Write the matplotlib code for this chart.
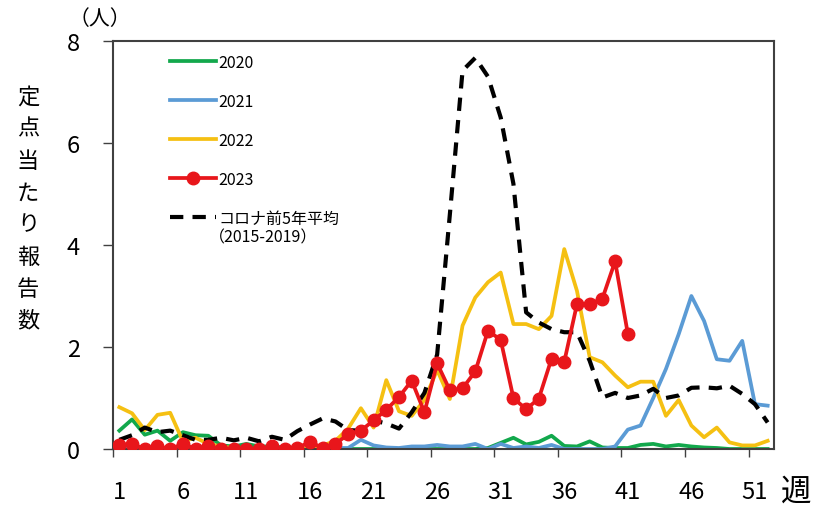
import matplotlib
matplotlib.use("Agg")
import matplotlib.pyplot as plt

plt.rcParams['font.family'] = ['Noto Sans CJK JP', 'DejaVu Sans']

weeks = list(range(1, 53))
weeks_2023 = list(range(1, 42))

v2020 = [0.36, 0.58, 0.28, 0.36, 0.16, 0.33, 0.27, 0.26, 0.07, 0.05,
         0.10, 0.05, 0.05, 0.03, 0.02, 0.00, 0.00, 0.00, 0.00, 0.00,
         0.00, 0.00, 0.00, 0.00, 0.00, 0.00, 0.00, 0.00, 0.00, 0.02,
         0.12, 0.22, 0.09, 0.14, 0.26, 0.06, 0.05, 0.15, 0.03, 0.02,
         0.02, 0.08, 0.10, 0.05, 0.08, 0.05, 0.03, 0.02, 0.00, 0.00,
         0.00, 0.00]

v2021 = [0.05, 0.02, 0.00, 0.00, 0.00, 0.00, 0.00, 0.00, 0.00, 0.00,
         0.00, 0.00, 0.00, 0.00, 0.00, 0.00, 0.00, 0.02, 0.02, 0.18,
         0.07, 0.03, 0.02, 0.05, 0.05, 0.08, 0.05, 0.05, 0.10, 0.00,
         0.10, 0.02, 0.05, 0.02, 0.08, 0.00, 0.00, 0.00, 0.00, 0.05,
         0.38, 0.46, 1.00, 1.57, 2.25, 3.00, 2.51, 1.76, 1.73, 2.12,
         0.88, 0.85]

v2022 = [0.82, 0.70, 0.37, 0.67, 0.71, 0.15, 0.22, 0.10, 0.05, 0.02,
         0.00, 0.00, 0.00, 0.00, 0.00, 0.02, 0.07, 0.16, 0.40, 0.80,
         0.42, 1.35, 0.74, 0.65, 0.96, 1.55, 0.98, 2.42, 2.97, 3.27,
         3.46, 2.45, 2.45, 2.35, 2.61, 3.92, 3.10, 1.80, 1.70, 1.44,
         1.21, 1.32, 1.32, 0.65, 0.96, 0.46, 0.23, 0.42, 0.13, 0.07,
         0.07, 0.16]

v2023 = [0.08, 0.10, 0.00, 0.05, 0.00, 0.10, 0.00, 0.05, 0.00, 0.00,
         0.00, 0.00, 0.05, 0.00, 0.02, 0.14, 0.02, 0.10, 0.29, 0.36,
         0.56, 0.77, 1.02, 1.34, 0.72, 1.68, 1.15, 1.19, 1.52, 2.32,
         2.14, 1.00, 0.78, 0.99, 1.77, 1.71, 2.84, 2.84, 2.95, 3.68,
         2.26]

vavg = [0.18, 0.27, 0.42, 0.33, 0.36, 0.27, 0.18, 0.18, 0.22, 0.17,
        0.22, 0.15, 0.24, 0.18, 0.35, 0.48, 0.60, 0.54, 0.37, 0.36,
        0.56, 0.50, 0.40, 0.72, 1.10, 1.85, 4.60, 7.42, 7.67, 7.30,
        6.50, 5.20, 2.68, 2.48, 2.35, 2.29, 2.29, 1.73, 1.01, 1.10,
        1.00, 1.05, 1.18, 1.00, 1.05, 1.20, 1.21, 1.19, 1.24, 1.08,
        0.88, 0.52]

labels = ['2020', '2021', '2022', '2023', 'コロナ前5年平均']
label_avg_years = '（2015-2019）'
xtick_labels = ['1', '6', '11', '16', '21', '26', '31', '36', '41', '46', '51']
ytick_vals = [0, 2, 4, 6, 8]

c2020 = '#12A84C'
c2021 = '#5B9BD5'
c2022 = '#F5C012'
c2023 = '#E8161B'

fig = plt.figure(figsize=(8.25, 5.06), dpi=100)
ax = fig.add_axes([113 / 825, 1 - 450 / 506, (774 - 113) / 825, (450 - 42) / 506])

ax.plot(weeks, v2020, color=c2020, lw=2.7, zorder=2, label=labels[0])
ax.plot(weeks, v2021, color=c2021, lw=2.7, zorder=2, label=labels[1])
ax.plot(weeks, v2022, color=c2022, lw=2.7, zorder=2, label=labels[2])
ax.plot(weeks_2023, v2023, color=c2023, lw=2.7, marker='o', ms=9,
        zorder=4, label=labels[3])
ax.plot(weeks, vavg, color='black', lw=3, ls=(0, (3.2, 2.2)), zorder=3,
        label=labels[4])

ax.set_xlim(0.5, 52.5)
ax.set_ylim(0, 8)

xt_pos = [int(s) for s in xtick_labels]
ax.set_xticks([p - 0.5 for p in xt_pos])
ax.set_xticklabels([])
ax.set_xticks(xt_pos, minor=True)
ax.set_xticklabels(xtick_labels, minor=True, fontsize=17)
ax.tick_params(axis='x', which='major', length=6, width=1, color='#404040', direction='out')
ax.tick_params(axis='x', which='minor', length=0, pad=22)

ax.set_yticks(ytick_vals)
ax.set_yticklabels([str(v) for v in ytick_vals], fontsize=17)
ax.tick_params(axis='y', length=7, width=1, color='#404040', pad=17, direction='out')

for s in ax.spines.values():
    s.set_color('#404040')
    s.set_linewidth(1.5)

# legend
leg = ax.legend(loc='upper left', bbox_to_anchor=(0.077, 0.985), frameon=False,
                fontsize=11.5, handlelength=2.85, handletextpad=0.15,
                labelspacing=1.38, borderaxespad=0)
fig.canvas.draw()
ax.annotate(label_avg_years, xy=(0, 0), xycoords=leg.get_texts()[-1],
            xytext=(-7, -1), textcoords='offset points', va='top', ha='left',
            fontsize=11.5)

# axis titles
fig.text(28 / 825, 1 - 209 / 506, '\n'.join('定点当たり報告数'), ha='center', va='center',
         fontsize=16, linespacing=1.5)
fig.text(100 / 825, 1 - 19 / 506, '（人）', ha='center', va='center', fontsize=15)
fig.text(796 / 825, 1 - 492 / 506, '週', ha='center', va='center', fontsize=22)

fig.savefig('out.png', dpi=100)
